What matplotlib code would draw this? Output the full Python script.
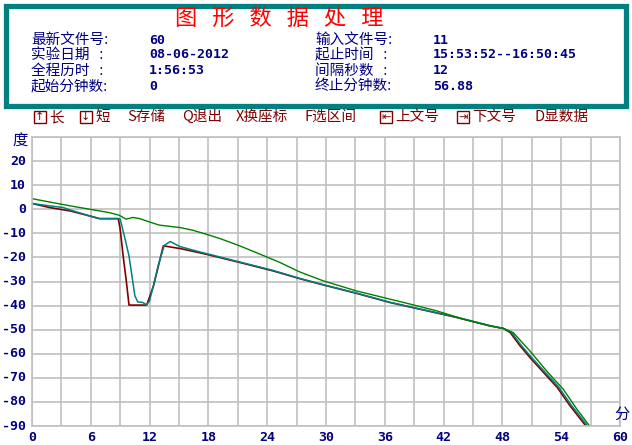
import matplotlib
matplotlib.use("Agg")
import matplotlib.pyplot as plt
from matplotlib.patches import Rectangle

plt.rcParams['font.family'] = ['Noto Sans CJK SC', 'DejaVu Sans']

# --- data (minutes, degrees) ---
red_t = [0, 1.8, 3.9, 5.9, 6.9, 8.8, 9.0, 9.3, 9.6, 9.9, 11.7, 12.4, 12.9, 13.4,
         15.1, 17.8, 21.2, 24.6, 27.3, 29.7, 33.1, 36.5, 39.9, 43.3, 46.7, 48.1,
         48.8, 49.8, 50.8, 52.2, 53.6, 54.9, 56.5, 56.88]
red_y = [2.4, 0.7, -0.7, -2.8, -3.9, -3.9, -8.3, -19.4, -29, -39.8, -39.8, -31.8,
         -23.5, -15.2, -16.3, -18.7, -22.1, -25.6, -28.8, -31.4, -34.9, -38.7,
         -41.8, -44.9, -48.4, -49.5, -51.2, -56.7, -61.5, -67.8, -74, -81.6, -89.9, -92]

teal_t = [0, 1.8, 3.2, 3.9, 5.9, 6.9, 8.9, 9.0, 9.5, 9.9, 10.2, 10.5, 10.8, 11.3,
          11.7, 12.0, 12.4, 12.9, 13.5, 14.1, 15.1, 17.1, 21.2, 24.6, 27.3, 29.7,
          33.1, 36.5, 39.9, 43.3, 46.7, 48.1, 48.9, 49.9, 50.9, 52.3, 53.7, 55.0,
          56.6, 56.88]
teal_y = [2.4, 1.4, 0.7, -0.3, -2.8, -3.9, -3.9, -4.1, -12.4, -19.4, -27.7, -36,
          -38.5, -38.7, -39.7, -38, -31.5, -23, -15, -13.4, -15.5, -17.7, -21.9,
          -25.4, -28.7, -31.3, -34.8, -38.6, -41.7, -44.8, -48.3, -49.5, -51,
          -56.4, -61.2, -67.4, -73.6, -81.2, -89.5, -91]

green_t = [0, 1.8, 3.9, 5.9, 7.9, 8.9, 9.6, 10.3, 11.0, 12.0, 13.0, 15.1, 16.4,
           17.8, 19.2, 21.2, 23.3, 25.3, 27.3, 29.7, 33.1, 35.9, 38.6, 41.3, 44.0,
           46.7, 48.1, 49.1, 50.8, 52.5, 54.2, 55.6, 56.88]
green_y = [4.4, 3.0, 1.4, 0.0, -1.4, -2.5, -4.1, -3.4, -3.9, -5.3, -6.6, -7.6,
           -8.7, -10.4, -12.2, -15.2, -18.7, -22.1, -26.0, -29.7, -33.9, -36.7,
           -39.4, -42.2, -45.6, -48.4, -49.5, -51.2, -58.8, -67.1, -74.7, -83.0, -89.9]

xticks = list(range(0, 61, 6))
yticks = list(range(-90, 21, 10))

info_left = [("最新文件号:", "60"), ("实验日期   :", "08-06-2012"),
             ("全程历时   :", "1:56:53"), ("起始分钟数:", "0")]
info_right = [("输入文件号:", "11"), ("起止时间   :", "15:53:52--16:50:45"),
              ("间隔秒数   :", "12"), ("终止分钟数:", "56.88")]

menu = [("↑", "长", 34), ("↓", "短", 80), ("", "S存储", 127), ("", "Q退出", 182),
        ("", "X换座标", 236), ("", "F选区间", 304), ("⇤", "上文号", 380),
        ("⇥", "下文号", 457), ("", "D显数据", 534)]

W, H = 632, 445
navy = '#000080'
dred = '#800000'

fig = plt.figure(figsize=(W / 100, H / 100), dpi=100)
fig.patch.set_facecolor('white')

def fx(px):
    return px / W

def fy(py):
    return 1 - py / H

# header box
fig.patches.append(Rectangle((fx(5.5), fy(105.5)), fx(620), 100 / H,
                             transform=fig.transFigure, fill=False,
                             edgecolor='#008080', lw=3.8))

fig.text(fx(279), fy(18), "图   形   数   据   处   理", color='#ff0000', fontsize=16,
         ha='center', va='center')

rows = [40, 55, 71, 86]
for (lab, val), (lab2, val2), ry in zip(info_left, info_right, rows):
    fig.text(fx(31), fy(ry), lab, color=navy, fontsize=10.5, va='center')
    fig.text(fx(149), fy(ry), val, color=navy, fontsize=9.5, va='center',
             family='DejaVu Sans Mono', weight='bold')
    fig.text(fx(315), fy(ry), lab2, color=navy, fontsize=10.5, va='center')
    fig.text(fx(433), fy(ry), val2, color=navy, fontsize=9.5, va='center',
             family='DejaVu Sans Mono', weight='bold')

# menu line
for icon, lab, px in menu:
    x0 = px
    if icon:
        fig.text(fx(x0 + 1), fy(117), icon, color=dred, fontsize=8, va='center',
                 family='DejaVu Sans',
                 bbox=dict(boxstyle='square,pad=0.12', fc='white', ec=dred, lw=1.0))
        x0 += 15
    fig.text(fx(x0), fy(117), lab, color=dred, fontsize=10.5, va='center')

# plot area
ax = fig.add_axes([fx(32), fy(426), fx(620) - fx(32), fy(137) - fy(426)])
ax.plot(red_t, red_y, color='#800000', lw=1.2)
ax.plot(teal_t, teal_y, color='#008080', lw=1.1)
ax.plot(green_t, green_y, color='#008000', lw=1.0)

ax.set_xlim(0, 60)
ax.set_ylim(-90, 30)
ax.set_xticks(range(0, 61, 3), minor=False)
ax.set_yticks(range(-90, 31, 10))
ax.grid(True, color='#c0c0c0', lw=1.2)
ax.set_axisbelow(True)
ax.tick_params(length=0, labelbottom=False, labelleft=False)
for s in ax.spines.values():
    s.set_color('#c0c0c0')
    s.set_linewidth(1.2)

for v in xticks:
    ax.text(v, -92, str(v), transform=ax.transData, ha='center', va='top',
            color=navy, fontsize=9.5, family='DejaVu Sans Mono', weight='bold',
            clip_on=False)
for v in yticks:
    ax.text(-0.6, v, str(v), ha='right', va='center', color=navy, fontsize=9.5,
            family='DejaVu Sans Mono', weight='bold', clip_on=False)

fig.text(fx(20), fy(140), "度", color=navy, fontsize=11, ha='center', va='center')
fig.text(fx(622), fy(414), "分", color=navy, fontsize=11, ha='center', va='center')

fig.savefig('out.png', dpi=100)
